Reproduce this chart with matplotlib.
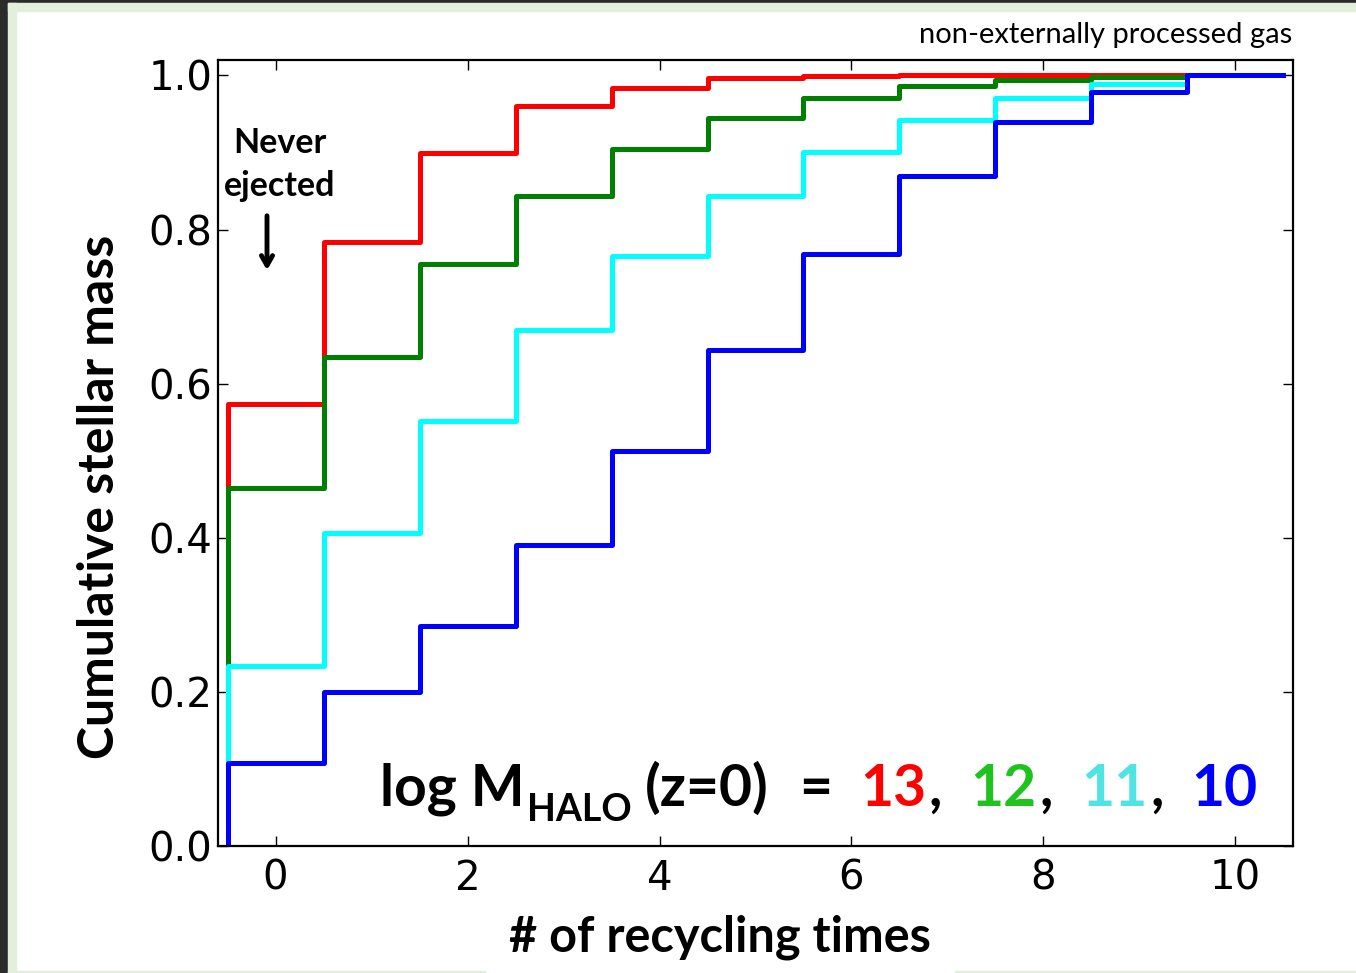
import numpy as np
import matplotlib
matplotlib.use('Agg')
import matplotlib.pyplot as plt
from matplotlib.patches import Rectangle

# cumulative stellar mass per recycling-count bin (bins centred on 0, 1, 2, ...)
red_13 = [0.574, 0.784, 0.899, 0.960, 0.984, 0.996, 0.999, 1.0, 1.0, 1.0]
green_12 = [0.464, 0.634, 0.755, 0.843, 0.905, 0.945, 0.971, 0.986, 0.994, 0.998]
cyan_11 = [0.234, 0.406, 0.551, 0.670, 0.766, 0.844, 0.901, 0.942, 0.971, 0.989]
blue_10 = [0.108, 0.200, 0.286, 0.390, 0.513, 0.644, 0.768, 0.869, 0.939, 0.979, 1.0]

series = [(red_13, '#ff0000'), (green_12, '#008000'),
          (cyan_11, '#00ffff'), (blue_10, '#0000ff')]

W, H = 1356, 973
fig = plt.figure(figsize=(W / 100, H / 100), dpi=100)
fig.patch.set_facecolor('white')

def px(x, y):
    return x / W, 1 - y / H

# slide frame
green_frame = '#e2efda'
fig.patches.append(Rectangle((0, 0), 8 / W, 1, transform=fig.transFigure, color='#2b2b2b', zorder=-10))
fig.patches.append(Rectangle((0, 1 - 3 / H), 1, 3 / H, transform=fig.transFigure, color='#2b2b2b', zorder=-10))
fig.patches.append(Rectangle((8 / W, 0), 8 / W, 1 - 3 / H, transform=fig.transFigure, color=green_frame, zorder=-9))
fig.patches.append(Rectangle((8 / W, 1 - 11 / H), 1, 8 / H, transform=fig.transFigure, color=green_frame, zorder=-9))
fig.patches.append(Rectangle((8 / W, 0), 477 / W, 2 / H, transform=fig.transFigure, color=green_frame, zorder=-9))
fig.patches.append(Rectangle((955 / W, 0), 1, 2 / H, transform=fig.transFigure, color=green_frame, zorder=-9))

ax = fig.add_axes([218 / W, 1 - 846 / H, (1293 - 218) / W, (846 - 60) / H])

for vals, col in series:
    vals = np.array(vals)
    edges = np.arange(len(vals) + 1) - 0.5
    x = np.concatenate([[edges[0]], edges])
    y = np.concatenate([[0], vals, [vals[-1]]])
    ax.step(x, y, where='post', color=col, lw=3.6)

ax.set_xlim(-0.6, 10.6)
ax.set_ylim(0, 1.02)
ax.set_xticks(np.arange(0, 11, 2))
ax.set_yticks(np.arange(0, 1.01, 0.2))
ax.set_yticklabels(['0.0', '0.2', '0.4', '0.6', '0.8', '1.0'])
ax.tick_params(direction='in', length=7, width=1, labelsize=29,
               top=True, right=True)
ax.tick_params(axis='y', pad=4)
ax.tick_params(axis='x', pad=9)
for s in ax.spines.values():
    s.set_linewidth(1.6)

lato = 'Lato'
fig.text(*px(100, 497), 'Cumulative stellar mass', rotation=90, ha='center', va='center',
         fontsize=36, fontweight='bold', family=lato)
fig.text(*px(720, 937), '# of recycling times', ha='center', va='center',
         fontsize=35, fontweight='bold', family=lato)
fig.text(*px(1292, 35), 'non-externally processed gas', ha='right', va='center',
         fontsize=21, family=lato)

fig.text(*px(280, 143), 'Never', ha='center', va='center', fontsize=24.5,
         fontweight='bold', family=lato)
fig.text(*px(280, 186), 'ejected', ha='center', va='center', fontsize=24.5,
         fontweight='bold', family=lato)
ax.annotate('', xy=px(267, 273), xycoords='figure fraction',
            xytext=px(267, 213), textcoords='figure fraction',
            arrowprops=dict(arrowstyle='->,head_length=0.7,head_width=0.4',
                            color='black', lw=3.5))

# multi-coloured label, pieces chained left to right on a common baseline
pieces = [('log M', 'black', 41, 0, 0),
          ('HALO', 'black', 27, 2, -15),
          ('(z=0)', 'black', 41, 14, 0),
          ('=', 'black', 41, 30, 0),
          ('13', '#ff0000', 41, 28, 0), (',', 'black', 41, 3, 0),
          ('12', '#1ec31e', 41, 28, 0), (',', 'black', 41, 3, 0),
          ('11', '#4fe3e3', 41, 28, 0), (',', 'black', 41, 3, 0),
          ('10', '#0000ff', 41, 28, 0)]
renderer = fig.canvas.get_renderer()
xcur, ybase = 380, H - 806
for txt, col, size, gap, dy in pieces:
    xcur += gap
    t = fig.text(xcur / W, (ybase + dy) / H, txt, color=col, fontsize=size,
                 fontweight='bold', family=lato, va='baseline', ha='left')
    xcur = t.get_window_extent(renderer).x1

fig.savefig('out.png', dpi=100)
